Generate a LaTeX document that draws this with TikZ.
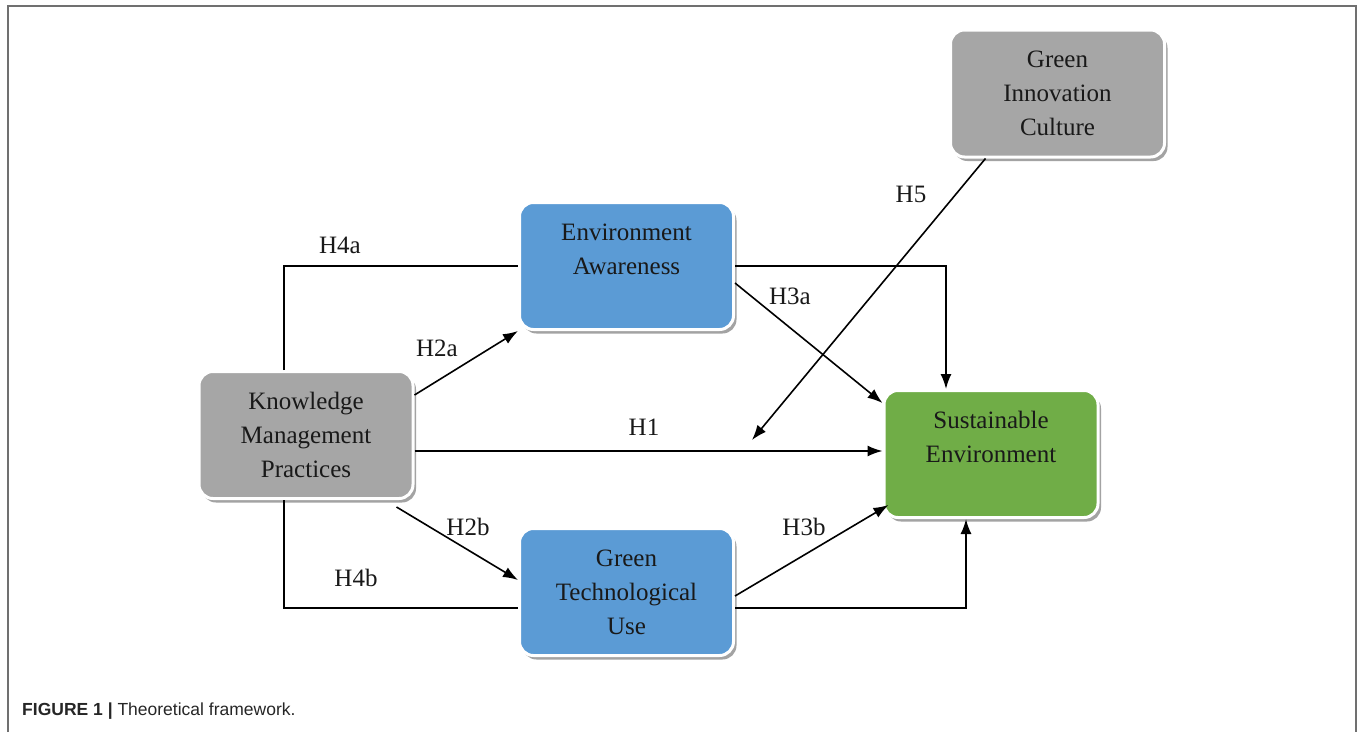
\documentclass[tikz,border=0pt]{standalone}
\usepackage{fontspec}
\setmainfont{Liberation Serif}
\newfontfamily\capfont{Liberation Sans}
\usetikzlibrary{arrows.meta,shadows,calc}
\definecolor{boxgray}{HTML}{A6A6A6}
\definecolor{boxblue}{HTML}{5B9BD5}
\definecolor{boxgreen}{HTML}{70AD47}
\definecolor{framegray}{HTML}{707070}
\tikzset{
  box/.style={rounded corners=14pt, draw=white, line width=3pt,
    minimum width=214pt, minimum height=127pt, align=center,
    text=black!90, font=\fontsize{25}{34}\selectfont,
    drop shadow={shadow xshift=3pt, shadow yshift=-4pt, fill=black!45, opacity=0.8}},
  conn/.style={line width=1.6pt, draw=black},
  arr/.style={conn, -{Latex[length=15pt,width=11pt]}},
  hlab/.style={font=\fontsize{25}{30}\selectfont, text=black!90}
}
\begin{document}
\begin{tikzpicture}[x=1pt,y=-1pt]
\useasboundingbox (0,0) rectangle (1358,732);
% frame
\draw[framegray, line width=2pt] (8,732) -- (8,6) -- (1356,6) -- (1356,732);
% boxes
\node[box, fill=boxgray] (kmp) at (306,435) {Knowledge\\Management\\Practices};
\node[box, fill=boxblue] (ea) at (626.5,266) {Environment\\Awareness\\~};
\node[box, fill=boxblue] (gtu) at (626.5,592) {Green\\Technological\\Use};
\node[box, fill=boxgreen] (se) at (991,454) {Sustainable\\Environment\\~};
\node[box, fill=boxgray] (gic) at (1057.5,93.5) {Green\\Innovation\\Culture};
% connectors
\draw[conn] (kmp.north -| 284,0) |- (ea.west);
\draw[conn] (kmp.south -| 284,0) |- ([yshift=-16pt]gtu.west);
\draw[arr] (kmp.east |- 0,451) -- (se.west |- 0,451);
\draw[arr] (kmp.east |- 0,395) -- (ea.south west);
\draw[arr] ([xshift=-18pt,yshift=-7pt]kmp.south east) -- ([yshift=12pt]gtu.west);
\draw[arr] (ea.east) -| ([xshift=-45pt]se.north);
\draw[arr] ([yshift=-17pt]ea.east) -- ([yshift=-14pt]se.north west);
\draw[arr] ([yshift=-4pt]gtu.east) -- ([xshift=6pt,yshift=14pt]se.south west);
\draw[arr] ([yshift=-16pt]gtu.east) -| ([xshift=-25pt]se.south);
\coordinate (h5end) at (752,440);
\draw[arr] ([xshift=-72pt]gic.south) -- (h5end);
% labels
\node[hlab] (l4a) at (340,245) {H4a};
\node[hlab] (l2a) at (437,348) {H2a};
\node[hlab] (l1) at (644,427) {H1};
\node[hlab] (l2b) at (468,527) {H2b};
\node[hlab] (l4b) at (356,578) {H4b};
\node[hlab] (l3a) at (790,296) {H3a};
\node[hlab] (l3b) at (804,527) {H3b};
\node[hlab] (l5) at (911,194) {H5};
% caption
\node[anchor=west, font=\capfont\fontsize{17.5}{20}\selectfont, text=black!85, inner sep=0pt] (cap) at (22,711) {\textbf{FIGURE 1 |} Theoretical framework.};
\end{tikzpicture}
\end{document}
